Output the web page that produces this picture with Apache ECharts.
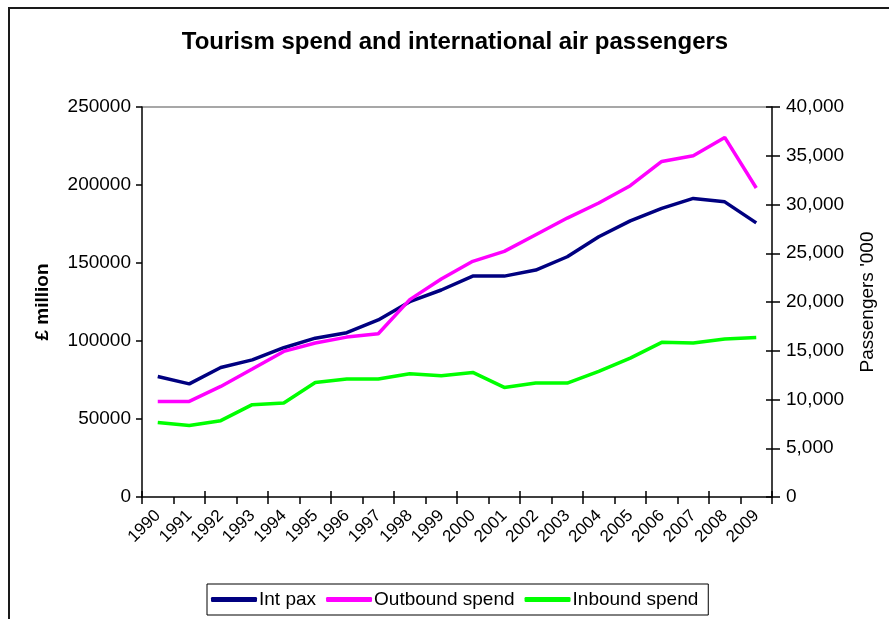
<!DOCTYPE html>
<html>
<head>
<meta charset="utf-8">
<script src="https://cdn.jsdelivr.net/npm/echarts@6/dist/echarts.min.js"></script>
<style>
  html, body { margin: 0; padding: 0; background: #fff; }
  #chart { width: 889px; height: 619px; }
</style>
</head>
<body>
<div id="chart"></div>
<script>
// Years on the category axis
const years = ['1990','1991','1992','1993','1994','1995','1996','1997','1998','1999',
               '2000','2001','2002','2003','2004','2005','2006','2007','2008','2009'];

// International air passengers (left axis)
const intPax = [77200, 72500, 83000, 87900, 95700, 101800, 105300, 113500, 125200, 132700,
                141600, 141600, 145500, 154000, 166800, 177000, 185000, 191400, 189200, 175700];

// Outbound tourism spend (right axis)
const outboundSpend = [9800, 9800, 11340, 13130, 14930, 15800, 16400, 16750, 20240, 22360,
                       24170, 25190, 26900, 28610, 30150, 31930, 34420, 35000, 36880, 31690];

// Inbound tourism spend (right axis)
const inboundSpend = [7650, 7340, 7830, 9470, 9640, 11750, 12100, 12100, 12650, 12440,
                      12780, 11240, 11690, 11690, 12880, 14250, 15860, 15790, 16200, 16370];

const FONT = '"Liberation Sans", Arial, sans-serif';
const chart = echarts.init(document.getElementById('chart'), null, { renderer: 'canvas' });

const grid = { left: 142, right: 117, top: 107, bottom: 122 };

chart.setOption({
  backgroundColor: '#fff',
  animation: false,
  textStyle: { fontFamily: FONT, color: '#000' },
  title: {
    text: 'Tourism spend and international air passengers',
    left: 455, top: 30, textAlign: 'center', padding: 0,
    textStyle: { fontFamily: FONT, fontSize: 24, fontWeight: 'bold', color: '#000' }
  },
  graphic: [{
    type: 'rect', silent: true,
    shape: { x: 9, y: 8, width: 900, height: 640 },
    style: { fill: 'none', stroke: '#1a1a1a', lineWidth: 2 }
  }],
  legend: {
    left: 207, top: 584,
    padding: [6, 10, 6, 4],
    itemGap: 10, itemWidth: 46, itemHeight: 5,
    borderColor: '#000', borderWidth: 1,
    icon: 'roundRect',
    textStyle: { fontFamily: FONT, fontSize: 19, color: '#000', padding: [0, 0, 0, -3] },
    data: ['Int pax', 'Outbound spend', 'Inbound spend']
  },
  grid: grid,
  xAxis: [{
    type: 'category', data: years, boundaryGap: true,
    axisLine: { lineStyle: { color: '#000', width: 1.5 } },
    axisTick: { show: true, inside: false, length: 7, lineStyle: { color: '#000', width: 1.5 } },
    axisLabel: { rotate: 45, fontSize: 17, color: '#000', margin: 16, fontFamily: FONT, interval: 0 },
    splitLine: { show: false }
  }, {
    type: 'category', data: years, boundaryGap: true, position: 'bottom',
    axisLine: { show: false },
    axisTick: { show: true, inside: true, length: 6, lineStyle: { color: '#000', width: 1.5 } },
    axisLabel: { show: false },
    splitLine: { show: false }
  }],
  yAxis: [{
    type: 'value', min: 0, max: 250000, interval: 50000, position: 'left',
    name: '£ million', nameLocation: 'middle', nameGap: 90, nameRotate: 90,
    nameTextStyle: { fontFamily: FONT, fontSize: 19, fontWeight: 'bold', color: '#000' },
    axisLine: { show: true, lineStyle: { color: '#000', width: 1.5 } },
    axisTick: { show: true, inside: false, length: 6, lineStyle: { color: '#000', width: 1.5 } },
    axisLabel: { fontSize: 19, color: '#000', margin: 11, fontFamily: FONT, formatter: v => String(v) },
    splitLine: { show: true, lineStyle: { color: ['none', 'none', 'none', 'none', 'none', '#8a8a8a'], width: 1.5 } }
  }, {
    type: 'value', min: 0, max: 40000, interval: 5000, position: 'right',
    name: "Passengers '000", nameLocation: 'middle', nameGap: 86, nameRotate: 90,
    nameTextStyle: { fontFamily: FONT, fontSize: 19, color: '#000' },
    axisLine: { show: true, lineStyle: { color: '#000', width: 1.5 } },
    axisTick: { show: true, inside: false, length: 8, lineStyle: { color: '#000', width: 1.5 } },
    axisLabel: {
      fontSize: 19, color: '#000', margin: 14, fontFamily: FONT,
      formatter: v => v.toLocaleString('en-US')
    },
    splitLine: { show: false }
  }, {
    type: 'value', min: 0, max: 40000, interval: 5000, position: 'right',
    axisLine: { show: false },
    axisTick: { show: true, inside: true, length: 6, lineStyle: { color: '#000', width: 1.5 } },
    axisLabel: { show: false },
    splitLine: { show: false }
  }],
  series: [{
    name: 'Int pax', type: 'line', yAxisIndex: 0, data: intPax,
    symbol: 'none', color: '#000080',
    lineStyle: { color: '#000080', width: 3.5 }
  }, {
    name: 'Outbound spend', type: 'line', yAxisIndex: 1, data: outboundSpend,
    symbol: 'none', color: '#ff00ff',
    lineStyle: { color: '#ff00ff', width: 3.5 }
  }, {
    name: 'Inbound spend', type: 'line', yAxisIndex: 1, data: inboundSpend,
    symbol: 'none', color: '#00ff00',
    lineStyle: { color: '#00ff00', width: 3.5 }
  }]
});
</script>
</body>
</html>
